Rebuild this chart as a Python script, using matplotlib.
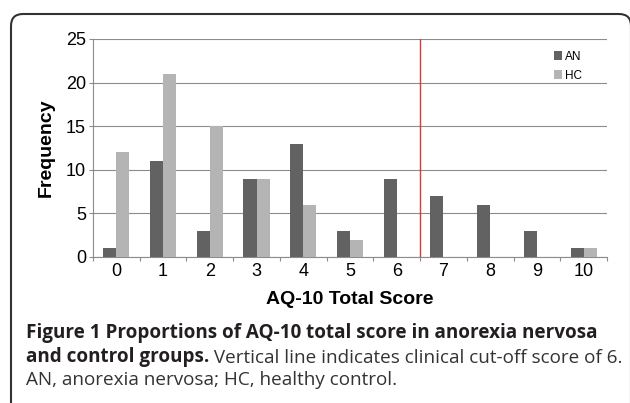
import numpy as np
import matplotlib
matplotlib.use('Agg')
import matplotlib.pyplot as plt
from matplotlib.patches import FancyBboxPatch
from matplotlib.transforms import IdentityTransform

# AQ-10 total score counts per group
scores = [0, 1, 2, 3, 4, 5, 6, 7, 8, 9, 10]
an_counts = [1, 11, 3, 9, 13, 3, 9, 7, 6, 3, 1]
hc_counts = [12, 21, 15, 9, 6, 2, 0, 0, 0, 0, 1]
cutoff = 6.5

plt.rcParams['font.family'] = ['Liberation Sans', 'DejaVu Sans']

fig = plt.figure(figsize=(6.3, 4.03), dpi=100)
ax = fig.add_axes([0.1476, 0.3623, 0.816, 0.541])

x = np.array(scores)
w = 0.28
ax.bar(x - w / 2, an_counts, width=w, color='#626262', label='AN', zorder=3)
ax.bar(x + w / 2, hc_counts, width=w, color='#b4b4b4', label='HC', zorder=3)

ax.axvline(cutoff, color='#d8383a', lw=1.0, zorder=4)

ax.set_xlim(-0.5, 10.5)
ax.set_ylim(0, 25)
ax.set_yticks([0, 5, 10, 15, 20, 25])
ax.yaxis.grid(True, color='#8c8c8c', lw=0.8, zorder=0)
ax.set_axisbelow(True)

ax.set_xticks(scores)
ax.set_xticks(np.arange(-0.5, 11, 1), minor=True)
ax.tick_params(axis='x', which='major', length=0, labelsize=13, pad=4)
ax.tick_params(axis='x', which='minor', length=3, color='#8c8c8c', width=0.8)
ax.tick_params(axis='y', length=3, color='#8c8c8c', width=0.8, labelsize=13, pad=2)

for s in ['top', 'right']:
    ax.spines[s].set_visible(False)
for s in ['left', 'bottom']:
    ax.spines[s].set_color('#8c8c8c')
    ax.spines[s].set_linewidth(0.8)

ax.set_xlabel('AQ-10 Total Score', fontsize=14, fontweight='bold', labelpad=8)
ax.set_ylabel('Frequency', fontsize=14, fontweight='bold', labelpad=8)

ax.legend(loc='upper left', bbox_to_anchor=(0.88, 0.985), frameon=False,
          fontsize=8.5, handlelength=0.7, handleheight=0.7, handletextpad=0.3,
          labelspacing=0.6, borderpad=0.2)

# rounded frame around figure
frame = FancyBboxPatch((11, -40), 620, 389 + 40, boxstyle='round,pad=0,rounding_size=12',
                       transform=IdentityTransform(), fill=False, ec='#333333', lw=1.5)
fig.patches.append(frame)

# caption
cap = ['Open Sans', 'DejaVu Sans']
csize = 13.6
t1 = fig.text(26 / 630, 1 - 338 / 403, 'Figure 1 Proportions of AQ-10 total score in anorexia nervosa',
              fontsize=csize, fontweight='bold', family=cap, color='#231f20', va='baseline')
t2 = fig.text(26 / 630, 1 - 362 / 403, 'and control groups.',
              fontsize=csize, fontweight='bold', family=cap, color='#231f20', va='baseline')
ax.annotate(' Vertical line indicates clinical cut-off score of 6.', xy=(1, 0), xycoords=t2,
            va='bottom', ha='left', fontsize=csize, family=cap, color='#333333')
fig.text(26 / 630, 1 - 385 / 403, 'AN, anorexia nervosa; HC, healthy control.',
         fontsize=csize, family=cap, color='#333333', va='baseline')

fig.savefig('out.png', dpi=100)
